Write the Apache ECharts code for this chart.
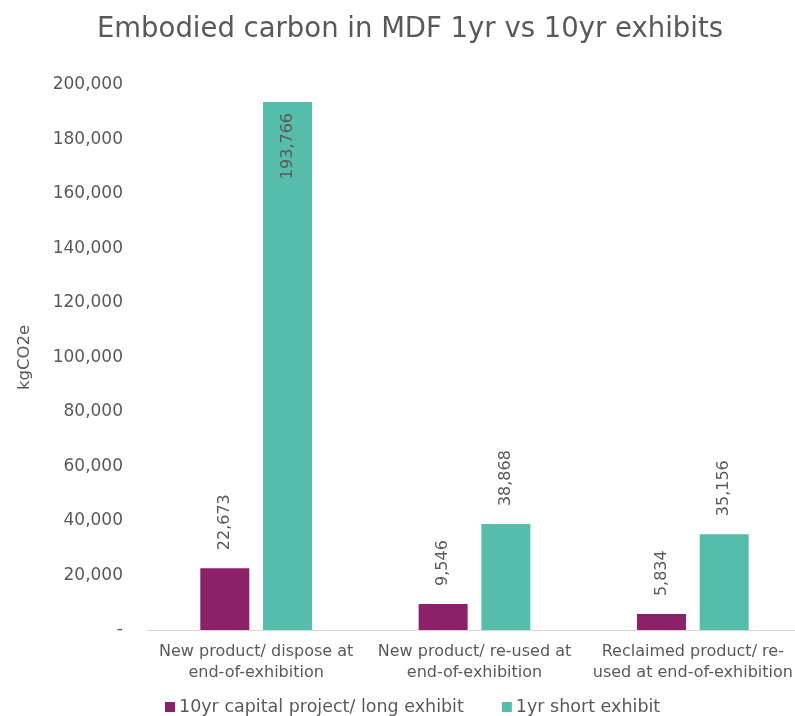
<!DOCTYPE html>
<html>
<head>
<meta charset="utf-8">
<script src="https://cdn.jsdelivr.net/npm/echarts@6/dist/echarts.min.js"></script>
<style>
  html, body { margin: 0; padding: 0; background: #fff; }
  #chart { width: 795px; height: 716px; }
</style>
</head>
<body>
<div id="chart"></div>
<script>
// Embodied carbon (kgCO2e) of MDF across three end-of-life scenarios
const categories = [
  'New product/ dispose at\nend-of-exhibition',
  'New product/ re-used at\nend-of-exhibition',
  'Reclaimed product/ re-\nused at end-of-exhibition'
];
const seriesNames = ['10yr capital project/ long exhibit', '1yr short exhibit'];
const longExhibit = [22673, 9546, 5834];
const shortExhibit = [193766, 38868, 35156];
const yTicks = { min: 0, max: 200000, interval: 20000 };

const FONT = '"DejaVu Sans", sans-serif';
const TEXT = '#595959';
const PURPLE = '#8C2169';
const TEAL = '#55BDAA';

const fmt = v => v === 0 ? '-' : v.toLocaleString('en-US');

function labelFor(v) {
  // tall bars carry the value inside, short ones above the bar
  const inside = v > 100000;
  return {
    show: true,
    rotate: 90,
    position: inside ? 'insideTop' : 'top',
    align: inside ? 'right' : 'left',
    verticalAlign: 'middle',
    distance: inside ? 11 : 18,
    color: TEXT,
    fontFamily: FONT,
    fontSize: 16,
    formatter: p => fmt(p.value)
  };
}

const chart = echarts.init(document.getElementById('chart'));
chart.setOption({
  animation: false,
  title: {
    text: 'Embodied carbon in MDF 1yr vs 10yr exhibits',
    left: 405,
    textAlign: 'center',
    top: 11,
    textStyle: { color: TEXT, fontFamily: FONT, fontSize: 27.5, fontWeight: 'normal' }
  },
  legend: {
    left: 160,
    top: 693,
    itemWidth: 10,
    itemHeight: 10,
    itemGap: 38,
    icon: 'rect',
    textStyle: { color: TEXT, fontFamily: FONT, fontSize: 17.5, padding: [0, 0, 0, -1] },
    data: seriesNames
  },
  grid: { left: 147, top: 85, bottom: 86, width: 655, containLabel: false, outerBoundsMode: 'none' },
  xAxis: {
    type: 'category',
    data: categories,
    axisLine: { lineStyle: { color: '#D9D9D9', width: 1 } },
    axisTick: { show: false },
    axisLabel: { color: TEXT, fontFamily: FONT, fontSize: 16, lineHeight: 21, margin: 11, interval: 0 }
  },
  yAxis: {
    type: 'value',
    min: yTicks.min,
    max: yTicks.max,
    interval: yTicks.interval,
    name: 'kgCO2e',
    nameLocation: 'middle',
    nameGap: 114,
    nameRotate: 90,
    nameTextStyle: { color: TEXT, fontFamily: FONT, fontSize: 16.5 },
    axisLine: { show: false },
    axisTick: { show: false },
    splitLine: { show: false },
    axisLabel: { color: TEXT, fontFamily: FONT, fontSize: 17, margin: 24, formatter: fmt }
  },
  series: [
    {
      name: seriesNames[0],
      type: 'bar',
      barWidth: 49,
      barGap: '28%',
      itemStyle: { color: PURPLE },
      data: longExhibit.map(v => ({ value: v, label: labelFor(v) }))
    },
    {
      name: seriesNames[1],
      type: 'bar',
      barWidth: 49,
      barGap: '28%',
      itemStyle: { color: TEAL },
      data: shortExhibit.map(v => ({ value: v, label: labelFor(v) }))
    }
  ]
});
</script>
</body>
</html>
